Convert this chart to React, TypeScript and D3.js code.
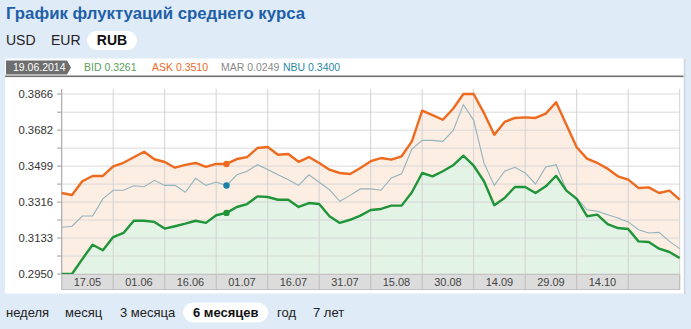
import React from "react";
import * as d3 from "d3";

const bid = [
  0.2950, 0.2950, 0.3026, 0.3099, 0.3071, 0.3138, 0.3159, 0.3221, 0.3221, 0.3215,
  0.3181, 0.3193, 0.3206, 0.3221, 0.3210, 0.3249, 0.3261, 0.3291, 0.3306, 0.3345,
  0.3342, 0.3328, 0.3328, 0.3291, 0.3311, 0.3306, 0.3244, 0.3210, 0.3226, 0.3247,
  0.3276, 0.3281, 0.3298, 0.3298, 0.3366, 0.3464, 0.3447, 0.3473, 0.3503, 0.3552,
  0.3501, 0.3422, 0.3300, 0.3337, 0.3393, 0.3393, 0.3362, 0.3396, 0.3450, 0.3374,
  0.3332, 0.3244, 0.3252, 0.3204, 0.3184, 0.3179, 0.3116, 0.3113, 0.3079, 0.3062,
  0.3031,
];

const ask = [
  0.3362, 0.3352, 0.3422, 0.3449, 0.3449, 0.3498, 0.3516, 0.3544, 0.3572, 0.3534,
  0.3520, 0.3491, 0.3505, 0.3515, 0.3495, 0.3510, 0.3510, 0.3535, 0.3545, 0.3591,
  0.3596, 0.3557, 0.3561, 0.3521, 0.3545, 0.3515, 0.3481, 0.3464, 0.3459, 0.3489,
  0.3524, 0.3540, 0.3532, 0.3549, 0.3625, 0.3781, 0.3758, 0.3735, 0.3791, 0.3866,
  0.3866, 0.3769, 0.3659, 0.3724, 0.3744, 0.3747, 0.3744, 0.3766, 0.3824, 0.3710,
  0.3595, 0.3537, 0.3515, 0.3486, 0.3447, 0.3430, 0.3388, 0.3391, 0.3362, 0.3374,
  0.3328,
];

const nbu = [
  0.3188, 0.3193, 0.3245, 0.3245, 0.3332, 0.3376, 0.3376, 0.3399, 0.3394, 0.3427,
  0.3401, 0.3401, 0.3366, 0.3437, 0.3401, 0.3418, 0.3400, 0.3455, 0.3473, 0.3506,
  0.3482, 0.3455, 0.3430, 0.3401, 0.3455, 0.3417, 0.3379, 0.3320, 0.3350, 0.3383,
  0.3383, 0.3376, 0.3439, 0.3460, 0.3586, 0.3630, 0.3630, 0.3625, 0.3679, 0.3812,
  0.3732, 0.3515, 0.3401, 0.3473, 0.3493, 0.3464, 0.3408, 0.3495, 0.3506, 0.3376,
  0.3337, 0.3277, 0.3269, 0.3252, 0.3235, 0.3215, 0.3175, 0.3159, 0.3162, 0.3116,
  0.3079,
];

const yTickLabels = ["0.2950", "0.3133", "0.3316", "0.3499", "0.3682", "0.3866"];
const dateLabels = ["17.05", "01.06", "16.06", "01.07", "16.07", "31.07", "15.08", "30.08", "14.09", "29.09", "14.10", ""];
const currencies = ["USD", "EUR", "RUB"];
const periods = ["неделя", "месяц", "3 месяца", "6 месяцев", "год", "7 лет"];
const markerIndex = 16;
const currentDate = "19.06.2014";
const legendLabels = ["BID 0.3261", "ASK 0.3510", "MAR 0.0249", "NBU 0.3400"];
const legendColors = ["#5a9e5a", "#ee6a1f", "#8a8a8a", "#2b88a8"];

const FONT = "'Liberation Sans', Arial, sans-serif";

export default function App() {
  const W = 691, H = 329;
  const left = 61.7, right = 679.7, top = 89, bottom = 274;
  const n = bid.length;
  const x = d3.scaleLinear().domain([0, n - 1]).range([left, right]);
  const y = d3.scaleLinear().domain([0.295, 0.3866]).range([274, 94]);

  const line = d3.line<number>().x((_, i) => x(i)).y((d) => y(d));
  const area = d3.area<number>().x((_, i) => x(i)).y0(bottom).y1((d) => y(d));

  const tickVals = yTickLabels.map((t) => +t);
  const step = tickVals[1] - tickVals[0];
  const gridVals: number[] = [];
  for (let i = 0; i < tickVals.length; i++) {
    gridVals.push(tickVals[i]);
    if (i < tickVals.length - 1) gridVals.push(tickVals[i] + step / 2);
  }

  const cellIdx = d3.range(0, n, 5);
  const cellW = x(5) - x(0);

  const perX = [6, 65, 120, 193, 277, 313];
  const legX = [84, 152, 221, 283];

  return (
    <svg width={W} height={H} style={{ position: "absolute", left: 0, top: 0 }} fontFamily={FONT}>
      <rect x={0} y={0} width={W} height={H} fill="#e0ebf8" />
      <text x={6} y={19} fontSize={16.8} fontWeight="bold" fill="#1d5fa8">
        График флуктуаций среднего курса
      </text>
      {/* currency tabs */}
      <rect x={87} y={31} width={50} height={19} rx={9.5} fill="#ffffff" />
      <text x={6} y={45} fontSize={14} fill="#222">{currencies[0]}</text>
      <text x={51} y={45} fontSize={14} fill="#222">{currencies[1]}</text>
      <text x={112} y={45} fontSize={14} fill="#111" fontWeight="bold" textAnchor="middle">{currencies[2]}</text>

      {/* panel */}
      <rect x={684} y={59} width={1.5} height={235} fill="#d0d8e2" />
      <rect x={5} y={58.5} width={678.5} height={235} fill="#ffffff" />
      <path d="M6,60.5 L67,60.5 L71,67.5 L67,74.5 L6,74.5 Z" fill="#6e6e6e" />
      <text x={13} y={71.3} fontSize={10.5} fill="#ffffff">{currentDate}</text>
      {legendLabels.map((lab, i) => (
        <text key={i} x={legX[i]} y={71.3} fontSize={10.5} fill={legendColors[i]}>{lab}</text>
      ))}
      <rect x={5} y={75.5} width={678.5} height={1.6} fill="#707070" />

      {/* fills */}
      <path d={area(ask) || ""} fill="#fdeee4" />
      <path d={area(bid) || ""} fill="#e3f3e6" />

      {/* horizontal grid */}
      {gridVals.map((v, i) => (
        <g key={"h" + i}>
          <line x1={left} x2={right} y1={y(v)} y2={y(v)} stroke="#d6d6d6" strokeWidth={1} opacity={0.9} />
          <line x1={left - 4.5} x2={left} y1={y(v)} y2={y(v)} stroke="#999" strokeWidth={1} />
        </g>
      ))}
      {/* vertical grid */}
      {cellIdx.map((i) => (
        <line key={"v" + i} x1={x(i)} x2={x(i)} y1={top} y2={bottom} stroke="#d2d2d2" strokeWidth={1} />
      ))}
      <line x1={left} x2={left} y1={top} y2={bottom} stroke="#a8a8a8" strokeWidth={1} />

      {/* y labels */}
      {yTickLabels.map((t, i) => (
        <text key={"yl" + i} x={53} y={y(+t) + 4} fontSize={11.3} fill="#333" textAnchor="end">{t}</text>
      ))}

      {/* lines */}
      <path d={line(nbu) || ""} fill="none" stroke="#93b3bd" strokeWidth={1.1} />
      <path d={line(ask) || ""} fill="none" stroke="#ee6a1f" strokeWidth={2.4} strokeLinejoin="round" />
      <path d={line(bid) || ""} fill="none" stroke="#1f9439" strokeWidth={2.4} strokeLinejoin="round" />
      <circle cx={x(markerIndex)} cy={y(ask[markerIndex])} r={3.2} fill="#ee6a1f" />
      <circle cx={x(markerIndex)} cy={y(nbu[markerIndex])} r={3.2} fill="#1a82a6" />
      <circle cx={x(markerIndex)} cy={y(bid[markerIndex])} r={3.2} fill="#1f9439" />

      {/* date band */}
      <rect x={left} y={274.5} width={right - left} height={15} fill="#dcdcdc" stroke="#c2c2c2" strokeWidth={1} />
      {cellIdx.map((i) => (
        <line key={"dv" + i} x1={x(i)} x2={x(i)} y1={274.5} y2={289.5} stroke="#bdbdbd" strokeWidth={1} />
      ))}
      {dateLabels.map((d, i) => (
        <text key={"dl" + i} x={x(i * 5) + cellW / 2} y={286} fontSize={11} fill="#444" textAnchor="middle">{d}</text>
      ))}

      {/* period tabs */}
      <rect x={183} y={302.5} width={85} height={20} rx={10} fill="#ffffff" />
      {periods.map((p, i) => (
        <text key={"p" + i} x={perX[i]} y={317} fontSize={13} fill={i === 3 ? "#111" : "#222"} fontWeight={i === 3 ? "bold" : "normal"}>{p}</text>
      ))}
    </svg>
  );
}
